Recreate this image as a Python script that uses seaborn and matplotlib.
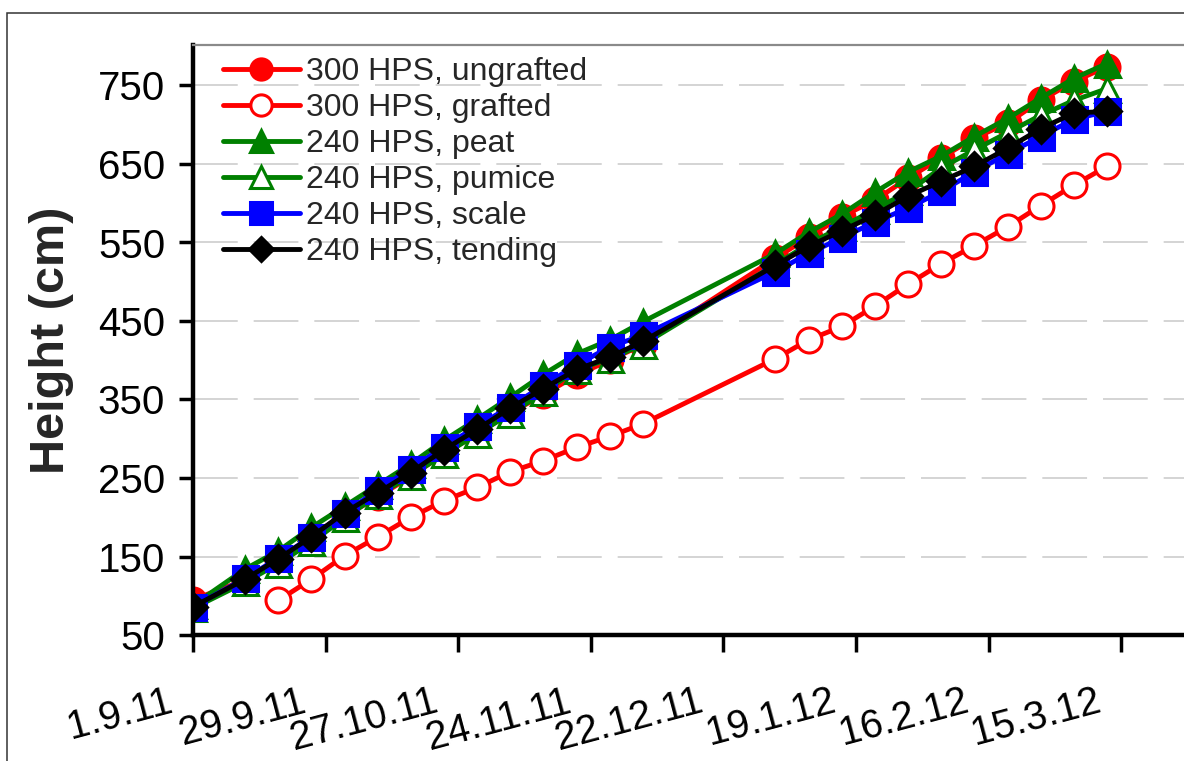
import matplotlib
matplotlib.use("Agg")
import matplotlib.pyplot as plt
import matplotlib.transforms as mtransforms
from matplotlib.patches import Rectangle
import numpy as np
import pandas as pd
import seaborn as sns

# Measurement days (offset from 1 Sep 2011)
start = pd.Timestamp("2011-09-01")
days = [0, 11, 18, 25, 32, 39, 46, 53, 60, 67, 74, 81, 88, 95,
        123, 130, 137, 144, 151, 158, 165, 172, 179, 186, 193]
days_grafted = days[2:]

ungrafted_300 = [95, 120, 145, 172, 201, 226, 252, 281, 306, 333, 356, 381, 400, 420,
                 530, 557, 583, 604, 632, 658, 683, 702, 731, 755, 774]
grafted_300 = [94, 121, 151, 175, 200, 221, 238, 258, 272, 289, 303, 319,
               402, 426, 443, 469, 497, 523, 546, 570, 597, 623, 647]
peat_240 = [88, 134, 157, 187, 214, 241, 268, 298, 325, 353, 382, 408, 426, 449,
            536, 563, 586, 614, 640, 660, 685, 708, 734, 759, 778]
pumice_240 = [84, 117, 141, 168, 199, 228, 253, 280, 306, 332, 359, 388, 402, 420,
              522, 548, 570, 592, 615, 645, 668, 690, 712, 731, 746]
scale_240 = [86, 122, 148, 175, 205, 235, 262, 290, 316, 341, 368, 394, 417, 432,
             513, 536, 556, 576, 594, 615, 640, 663, 685, 707, 717]
tending_240 = [86, 121, 147, 175, 206, 231, 257, 286, 312, 339, 364, 388, 404, 424,
               521, 545, 565, 585, 609, 628, 647, 670, 695, 715, 717]

tick_labels = ["1.9.11", "29.9.11", "27.10.11", "24.11.11",
               "22.12.11", "19.1.12", "16.2.12", "15.3.12"]
y_ticks = [50, 150, 250, 350, 450, 550, 650, 750]

series = [
    ("300 HPS, ungrafted", days, ungrafted_300, "#ff0000", "o", "#ff0000", 18),
    ("300 HPS, grafted", days_grafted, grafted_300, "#ff0000", "o", "white", 18),
    ("240 HPS, peat", days, peat_240, "#008000", "^", "#008000", 18),
    ("240 HPS, pumice", days, pumice_240, "#008000", "^", "white", 18),
    ("240 HPS, scale", days, scale_240, "#0000ff", "s", "#0000ff", 18),
    ("240 HPS, tending", days, tending_240, "#000000", "D", "#000000", 14.5),
]

sns.set_style("white")
plt.rcParams["font.family"] = ["Liberation Sans", "DejaVu Sans"]

W, H = 1184, 761
fig = plt.figure(figsize=(W / 100, H / 100), dpi=100)

ax_left, ax_right, ax_bottom, ax_top = 193, 1210, 635, 44.7
ax = fig.add_axes([ax_left / W, (H - ax_bottom) / H,
                   (ax_right - ax_left) / W, (ax_bottom - ax_top) / H])

for label, d, vals, color, marker, face, ms in series:
    df = pd.DataFrame({"date": [start + pd.Timedelta(days=k) for k in d],
                       "height": vals})
    sns.lineplot(data=df, x="date", y="height", ax=ax, color=color,
                 linewidth=3.5, marker=marker, markersize=ms,
                 markerfacecolor=face, markeredgecolor=color,
                 markeredgewidth=2.2, label=label, estimator=None, sort=False)

# Axes ranges
px_per_day = 132.6 / 28
ax.set_xlim(start, start + pd.Timedelta(days=(ax_right - ax_left) / px_per_day))
ax.set_ylim(50, 50 + (ax_bottom - ax_top) / 0.785)

tick_dates = [start + pd.Timedelta(days=28 * i) for i in range(len(tick_labels))]
ax.set_xticks(tick_dates)
ax.set_xticklabels(tick_labels, rotation=15, ha="right", va="top",
                   rotation_mode="anchor", fontsize=28.5)
ax.set_yticks(y_ticks)
ax.set_yticklabels([str(v) for v in y_ticks], fontsize=29)

ax.tick_params(axis="x", direction="out", length=12, width=2.5, pad=22,
               colors="black", bottom=True)
ax.tick_params(axis="y", direction="out", length=10, width=2.5, pad=10,
               colors="black", left=True)
shift = mtransforms.ScaledTranslation(-26 / 100, 0, fig.dpi_scale_trans)
for lab in ax.get_xticklabels():
    lab.set_transform(lab.get_transform() + shift)

ax.set_xlabel("")
ax.set_ylabel("Height (cm)", fontsize=35, fontweight="bold")
ax.yaxis.set_label_coords(-0.117, 0.5)

# Dashed horizontal grid
ax.set_axisbelow(True)
ax.yaxis.grid(True, color="#d4d4d4", linewidth=1.4, linestyle=(0, (23, 8.2)))
ax.xaxis.grid(False)

for side in ("left", "bottom"):
    ax.spines[side].set_color("black")
    ax.spines[side].set_linewidth(3.2)
ax.spines["top"].set_color("#8a8a8a")
ax.spines["top"].set_linewidth(1.6)
ax.spines["right"].set_visible(False)

handles, labels = ax.get_legend_handles_labels()
ax.legend(handles, labels, loc="upper left",
          bbox_to_anchor=(223 / W, 1 - 57 / H), bbox_transform=fig.transFigure,
          frameon=False, fontsize=23, handlelength=2.4, handletextpad=0.2,
          labelspacing=0.19, borderpad=0, borderaxespad=0, markerscale=0.85)

# Outer frame around the figure
fig.patches.append(Rectangle((7 / W, -0.2), 1.3, (H - 13) / H + 0.2,
                             transform=fig.transFigure, fill=False,
                             edgecolor="#333333", linewidth=1.1))

fig.savefig("out.png", dpi=100)
